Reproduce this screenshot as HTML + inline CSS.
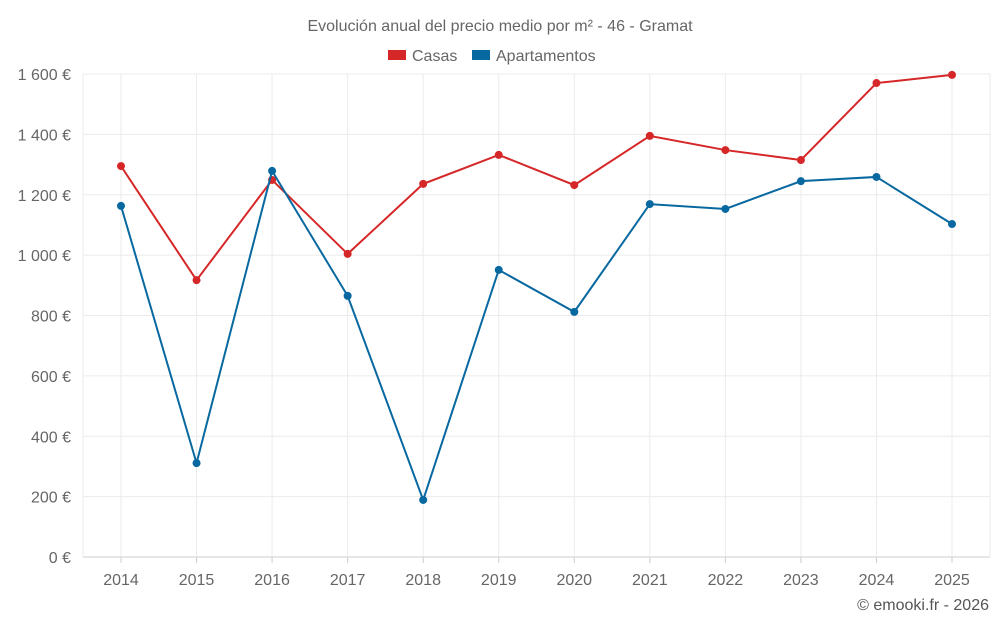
<!DOCTYPE html>
<html><head><meta charset="utf-8"><style>
body{margin:0;background:#fff;}
svg{display:block;font-family:"Liberation Sans",sans-serif;}
</style></head><body>
<svg id="chart" width="1000" height="625"></svg>
<script>
const years=["2014","2015","2016","2017","2018","2019","2020","2021","2022","2023","2024","2025"];
const casas=[1295,917,1249,1004,1236,1332,1232,1395,1348,1315,1570,1597];
const apartamentos=[1163,311,1279,865,189,951,812,1169,1153,1245,1259,1103];
const yTicks=[0,200,400,600,800,1000,1200,1400,1600];
const yTickLabels=["0 €","200 €","400 €","600 €","800 €","1 000 €","1 200 €","1 400 €","1 600 €"];
const NS="http://www.w3.org/2000/svg";
const svg=document.getElementById('chart');
const L=83,R=990,T=74,B=557;
const x=i=>121+i*(952-121)/(years.length-1);
const y=v=>B-(v/1600)*(B-T);
function el(t,a,p){const e=document.createElementNS(NS,t);for(const k in a)e.setAttribute(k,a[k]);(p||svg).appendChild(e);return e;}
const title=el('text',{x:500,y:31,'text-anchor':'middle','font-size':16,fill:'#666'});


title.textContent='Evolución anual del precio medio por m² - 46 - Gramat';
const legend=[["Casas","#d62728",388],["Apartamentos","#0868a0",472]];
legend.forEach(([n,c,lx])=>{
  const g=el('g',{});
  
  
  el('rect',{x:lx,y:50,width:18,height:10,fill:c},g);
  const t=el('text',{x:lx+24,y:61,'font-size':16,fill:'#666'},g);t.textContent=n;
});
yTicks.forEach((v,i)=>{
  const ln=el('line',{x1:L,x2:R,y1:y(v),y2:y(v),stroke:i===0?'#ccc':'#ebebeb'});
  
  
  const t=el('text',{x:71,y:y(v)+6,'text-anchor':'end','font-size':16,fill:'#666'});
  
  
  t.textContent=yTickLabels[i];
});
el('line',{x1:L,x2:L,y1:T,y2:B,stroke:'#ebebeb'});
years.forEach((yr,i)=>{
  const ln=el('line',{x1:x(i),x2:x(i),y1:T,y2:B,stroke:'#ebebeb'});
  
  
  el('line',{x1:x(i),x2:x(i),y1:B,y2:B+6,stroke:'#ccc'});
  const t=el('text',{x:x(i),y:585,'text-anchor':'middle','font-size':16,fill:'#666'});
  
  
  t.textContent=yr;
});
el('line',{x1:R,x2:R,y1:T,y2:B,stroke:'#ebebeb'});
[[casas,'#d62728','casas'],[apartamentos,'#0868a0','apartamentos']].forEach(([d,c,n])=>{
  const p=el('polyline',{points:d.map((v,i)=>x(i)+','+y(v)).join(' '),fill:'none',stroke:c,'stroke-width':2});
  
  
  d.forEach((v,i)=>{
    const ci=el('circle',{cx:x(i),cy:y(v),r:4,fill:c});
    
    
  });
});
const cr=el('text',{x:989,y:610,'text-anchor':'end','font-size':16,fill:'#555'});


cr.textContent='© emooki.fr - 2026';
</script>
</body></html>
